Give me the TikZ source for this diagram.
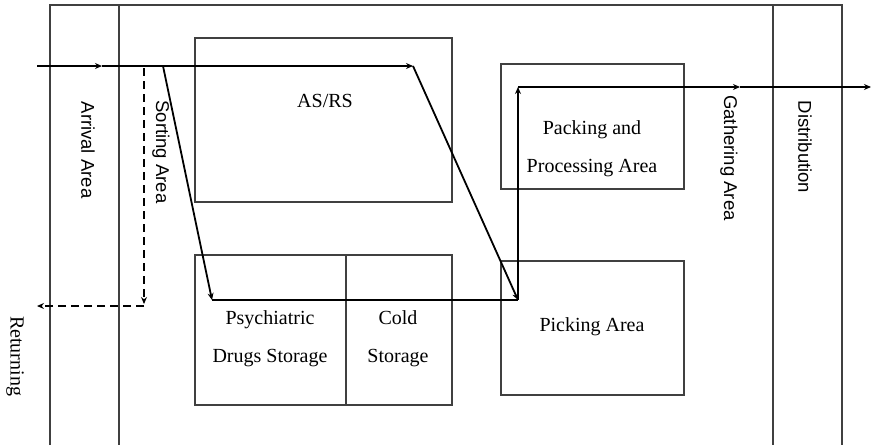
\documentclass[tikz,border=0pt]{standalone}
\usepackage{fontspec}
\setmainfont{Liberation Serif}
\setsansfont{Liberation Sans}
\usetikzlibrary{arrows.meta}
\begin{document}
\begin{tikzpicture}[x=1pt,y=-1pt,
  frameline/.style={draw=black!75, line width=1.2pt},
  area/.style={draw=black!75, line width=1.2pt, inner sep=0pt, outer sep=0pt, anchor=north west},
  flow/.style={line width=1.8pt, -{Stealth[length=7pt,width=6pt]}},
  plainflow/.style={line width=1.8pt},
  ret/.style={flow, dash pattern=on 8pt off 5pt},
  zone/.style={font=\sffamily\fontsize{18.5}{20}\selectfont, rotate=-90, inner sep=0pt},
  lbl/.style={font=\fontsize{20}{38}\selectfont, align=center, inner sep=0pt}]
\useasboundingbox (0,0) rectangle (873,445);

% warehouse outline and the strip zones
\draw[frameline] (50,445) -- (50,5) -- (842,5) -- (842,445);
\draw[frameline] (119,5) -- (119,445);
\draw[frameline] (773,5) -- (773,445);

% storage and handling areas
\node[area, minimum width=257pt, minimum height=164pt] (asrs) at (195,38) {};
\node[area, minimum width=183pt, minimum height=125pt] (packing) at (501,64) {};
\node[area, minimum width=151pt, minimum height=150pt] (psych) at (195,255) {};
\node[area, minimum width=106pt, minimum height=150pt] (cold) at (346,255) {};
\node[area, minimum width=183pt, minimum height=134pt] (picking) at (501,261) {};

% area labels
\node[lbl] (asrslbl) at (325,101) {AS/RS};
\node[lbl] (packlbl) at (592,149) {Packing and\\Processing Area};
\node[lbl] (psychlbl) at (270,339) {Psychiatric\\Drugs Storage};
\node[lbl] (coldlbl) at (398,339) {Cold\\Storage};
\node[lbl] (picklbl) at (592,327) {Picking Area};

\node[zone] (arrival) at (88,150) {Arrival Area};
\node[zone] (sorting) at (161,152) {Sorting Area};
\node[zone] (gathering) at (729,158) {Gathering Area};
\node[zone] (distrib) at (805,147) {Distribution};
\node[lbl, rotate=-90] (returning) at (15,356) {Returning};

% flow waypoints
\coordinate (in) at (37,66);
\coordinate (arr) at (102,66);
\coordinate (sortsplit) at (163,66);
\coordinate (retsplit) at (144,68);
\coordinate (asrsin) at (413,66);
\coordinate (psychin) at (212,300);
\coordinate (pickin) at (518,300);
\coordinate (packin) at (518,87);
\coordinate (gather) at (740,87);
\coordinate (out) at (871,87);
\coordinate (retcorner) at (144,304);
\coordinate (retturn) at (144,306);
\coordinate (retout) at (37,306);

% material flow
\draw[flow] (in) -- (arr);
\draw[flow] (arr) -- (asrsin);
\draw[flow] (asrsin) -- (pickin);
\draw[flow] (sortsplit) -- (psychin);
\draw[plainflow] (psychin) -- (pickin);
\draw[flow] (pickin) -- (packin);
\draw[flow] (packin) -- (gather);
\draw[flow] (gather) -- (out);

% returns
\draw[ret] (retsplit) -- (retcorner);
\draw[ret] (retturn) -- (retout);
\end{tikzpicture}
\end{document}
